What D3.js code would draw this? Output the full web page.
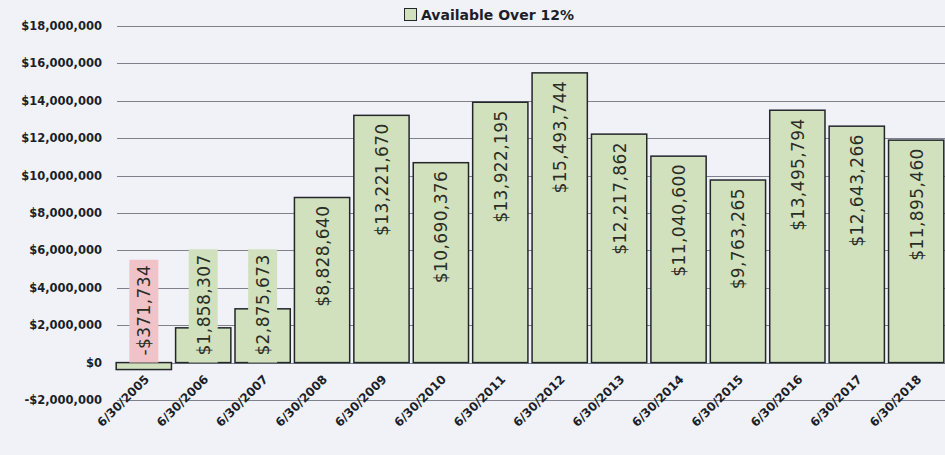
<!DOCTYPE html>
<html>
<head>
<meta charset="utf-8">
<script src="https://d3js.org/d3.v7.min.js"></script>
<style>
  body { margin: 0; background: #f0f2f7; }
  svg { display: block; }
</style>
</head>
<body>
<script>
// chart data
var dates = ["6/30/2005", "6/30/2006", "6/30/2007", "6/30/2008", "6/30/2009", "6/30/2010", "6/30/2011",
             "6/30/2012", "6/30/2013", "6/30/2014", "6/30/2015", "6/30/2016", "6/30/2017", "6/30/2018"];
var available = [-371734, 1858307, 2875673, 8828640, 13221670, 10690376, 13922195,
                 15493744, 12217862, 11040600, 9763265, 13495794, 12643266, 11895460];
var yTicks = [-2000000, 0, 2000000, 4000000, 6000000, 8000000, 10000000, 12000000, 14000000, 16000000, 18000000];
var seriesName = "Available Over 12%";

var width = 945, height = 455;

var svg = d3.select("body").append("svg")
    .attr("width", width)
    .attr("height", height);

// scales
var x = d3.scaleBand()
    .domain(dates)
    .range([115, 945])
    .paddingInner(0.07)
    .paddingOuter(0.02);

var y = d3.scaleLinear()
    .domain([-2000000, 18000000])
    .range([400, 26]);

var money = function(v) {
  return (v < 0 ? "-$" : "$") + d3.format(",")(Math.abs(v));
};

// gridlines
svg.append("g")
    .selectAll("line")
    .data(yTicks)
  .enter().append("line")
    .attr("x1", 117)
    .attr("x2", 945)
    .attr("y1", function(d) { return Math.round(y(d)) + 0.5; })
    .attr("y2", function(d) { return Math.round(y(d)) + 0.5; })
    .attr("stroke", "#7d828c")
    .attr("stroke-width", 1);

// y axis labels
svg.append("g")
    .selectAll("text")
    .data(yTicks)
  .enter().append("text")
    .attr("x", 102)
    .attr("y", function(d) { return y(d); })
    .attr("dy", "0.35em")
    .attr("text-anchor", "end")
    .style("font-family", "DejaVu Sans")
    .style("font-weight", "bold")
    .style("font-size", "11.5px")
    .style("fill", "#1c1f2a")
    .text(money);

var data = dates.map(function(d, i) { return {date: d, value: available[i]}; });

// bars
svg.append("g")
    .selectAll("rect")
    .data(data)
  .enter().append("rect")
    .attr("x", function(d) { return x(d.date); })
    .attr("width", x.bandwidth())
    .attr("y", function(d) { return y(Math.max(d.value, 0)); })
    .attr("height", function(d) { return Math.abs(y(d.value) - y(0)); })
    .attr("fill", "#d2e1bd")
    .attr("stroke", "#23262b")
    .attr("stroke-width", 1.5);

// data labels (rotated, in boxes)
var labels = svg.append("g")
    .selectAll("g")
    .data(data)
  .enter().append("g");

labels.each(function(d) {
  var g = d3.select(this);
  var cx = x(d.date) + x.bandwidth() / 2;
  var box = g.append("rect");
  var t = g.append("text")
      .attr("text-anchor", "end")
      .style("font-family", "DejaVu Sans")
      .style("font-size", "17px")
      .style("letter-spacing", "0.4px")
      .style("fill", "#2a2d25")
      .text(money(d.value));
  var len = t.node().getComputedTextLength();
  var boxH = len + 12;
  var top = y(Math.max(d.value, 0)) + 3;
  if (top + boxH > y(0)) top = y(0) - boxH;
  box.attr("x", cx - 14.5)
     .attr("width", 29)
     .attr("y", top)
     .attr("height", boxH)
     .attr("fill", d.value < 0 ? "#f0c3c9" : "#d2e1bd");
  t.attr("transform", "translate(" + (cx + 6.5) + "," + (top + 5) + ") rotate(-90)");
});

// x axis labels
svg.append("g")
    .selectAll("text")
    .data(dates)
  .enter().append("text")
    .attr("text-anchor", "end")
    .attr("transform", function(d) {
      return "translate(" + (x(d) + x.bandwidth() / 2 + 3) + ",377) rotate(-45)";
    })
    .attr("dy", "0.35em")
    .style("font-family", "DejaVu Sans")
    .style("font-weight", "bold")
    .style("font-size", "12px")
    .style("fill", "#1c1f2a")
    .text(function(d) { return d; });

// legend
var legend = svg.append("g");
legend.append("rect")
    .attr("x", 404.5)
    .attr("y", 8.5)
    .attr("width", 12)
    .attr("height", 12)
    .attr("fill", "#d2e1bd")
    .attr("stroke", "#23262b")
    .attr("stroke-width", 1);
legend.append("text")
    .attr("x", 421)
    .attr("y", 20)
    .style("font-family", "DejaVu Sans")
    .style("font-weight", "bold")
    .style("font-size", "14px")
    .style("fill", "#1c1f2a")
    .text(seriesName);
</script>
</body>
</html>
